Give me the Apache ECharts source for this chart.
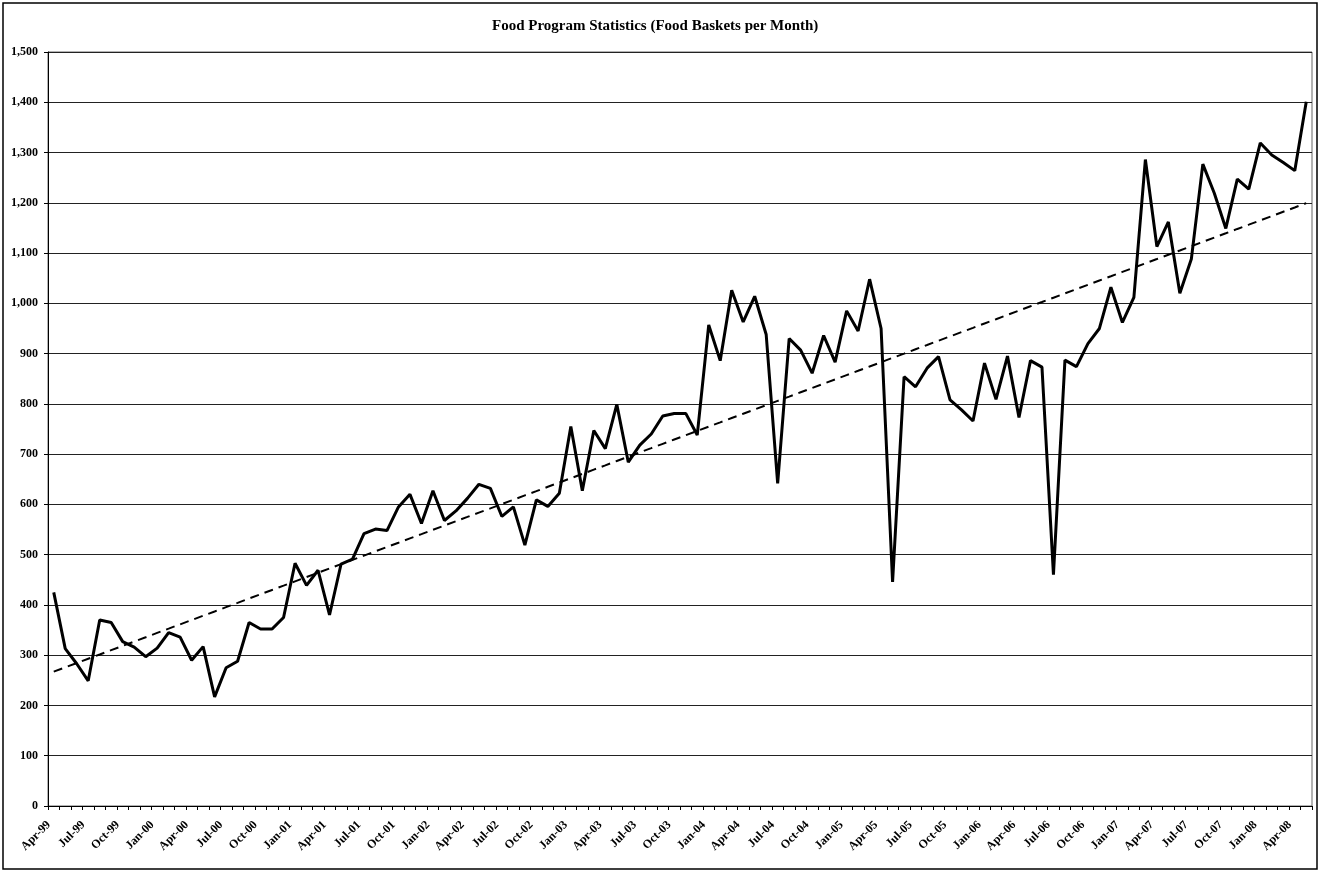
<!DOCTYPE html>
<html>
<head>
<meta charset="utf-8">
<script src="https://cdn.jsdelivr.net/npm/echarts@6/dist/echarts.min.js"></script>
<style>
  html, body { margin: 0; padding: 0; background: #fff; }
  #chart { width: 1321px; height: 871px; }
</style>
</head>
<body>
<div id="chart"></div>
<script>
// months Apr-99 .. May-08
var monthNames = ["Jan", "Feb", "Mar", "Apr", "May", "Jun", "Jul", "Aug", "Sep", "Oct", "Nov", "Dec"];
var categories = [];
for (var k = 0; k < 110; k++) {
  var m = (3 + k) % 12;
  var y = 1999 + Math.floor((3 + k) / 12);
  categories.push(monthNames[m] + "-" + String(y).slice(2));
}

// food baskets per month
var baskets1999 = [425, 313, 283, 249, 370, 365, 327, 316, 297];
var baskets2000 = [314, 345, 336, 290, 317, 217, 275, 288, 365, 352, 352, 375];
var baskets2001 = [483, 439, 469, 380, 481, 491, 542, 551, 548, 595, 620, 562];
var baskets2002 = [627, 568, 587, 612, 640, 632, 576, 595, 519, 609, 596, 622];
var baskets2003 = [755, 627, 747, 711, 799, 684, 718, 740, 776, 781, 781, 738];
var baskets2004 = [957, 886, 1026, 963, 1014, 938, 642, 930, 907, 861, 936, 883];
var baskets2005 = [985, 945, 1048, 950, 446, 854, 834, 871, 894, 808, 788, 766];
var baskets2006 = [881, 809, 895, 773, 886, 873, 460, 887, 874, 920, 950, 1032];
var baskets2007 = [962, 1012, 1286, 1113, 1162, 1020, 1088, 1277, 1219, 1149, 1247, 1227];
var baskets2008 = [1319, 1295, 1280, 1264, 1401];

var baskets = [].concat(baskets1999, baskets2000, baskets2001, baskets2002, baskets2003,
  baskets2004, baskets2005, baskets2006, baskets2007, baskets2008);

// linear trend (least squares)
var n = baskets.length, sx = 0, sy = 0, sxy = 0, sxx = 0;
baskets.forEach(function (v, i) { sx += i; sy += v; sxy += i * v; sxx += i * i; });
var slope = (n * sxy - sx * sy) / (n * sxx - sx * sx);
var icpt = (sy - slope * sx) / n;
var trend = baskets.map(function (v, i) { return Math.round((icpt + slope * i) * 10) / 10; });

var font = "'Liberation Serif', 'Times New Roman', serif";

var myChart = echarts.init(document.getElementById("chart"));
var option = {
  animation: false,
  backgroundColor: "#fff",
  title: {
    text: "Food Program Statistics (Food Baskets per Month)",
    left: 487,
    top: 14,
    textStyle: { fontFamily: font, fontSize: 15, fontWeight: "bold", color: "#000" },
  },
  graphic: [
    {
      type: "rect",
      shape: { x: 3, y: 3, width: 1314, height: 866 },
      style: { fill: null, stroke: "#000", lineWidth: 1.5 },
      silent: true,
    },
  ],
  grid: {
    left: 48,
    right: 9,
    top: 52,
    bottom: 65,
    show: true,
    borderColor: "#666",
    borderWidth: 1,
  },
  xAxis: {
    type: "category",
    data: categories,
    boundaryGap: true,
    axisLine: { lineStyle: { color: "#000", width: 1 } },
    axisTick: { show: true, interval: 0, length: 4, inside: false, lineStyle: { color: "#000" } },
    axisLabel: {
      interval: 2,
      rotate: 45,
      margin: 12,
      padding: [0, 7, 0, 0],
      fontFamily: font,
      fontSize: 12,
      fontWeight: "bold",
      color: "#000",
    },
    splitLine: { show: false },
  },
  yAxis: {
    type: "value",
    min: 0,
    max: 1500,
    interval: 100,
    axisLine: { show: true, lineStyle: { color: "#000", width: 1 } },
    axisTick: { show: true, length: 4, lineStyle: { color: "#000" } },
    axisLabel: {
      margin: 10,
      fontFamily: font,
      fontSize: 12,
      fontWeight: "bold",
      color: "#000",
      formatter: function (v) { return v.toLocaleString("en-US"); },
    },
    splitLine: { show: true, lineStyle: { color: "#222", width: 1 } },
  },
  series: [
    {
      name: "Food Baskets",
      type: "line",
      data: baskets,
      symbol: "none",
      lineStyle: { color: "#000", width: 3 },
      z: 3,
    },
    {
      name: "Trend",
      type: "line",
      data: trend,
      symbol: "none",
      lineStyle: { color: "#000", width: 2, type: [9, 6] },
      z: 2,
    },
  ],
};
myChart.setOption(option);
</script>
</body>
</html>
